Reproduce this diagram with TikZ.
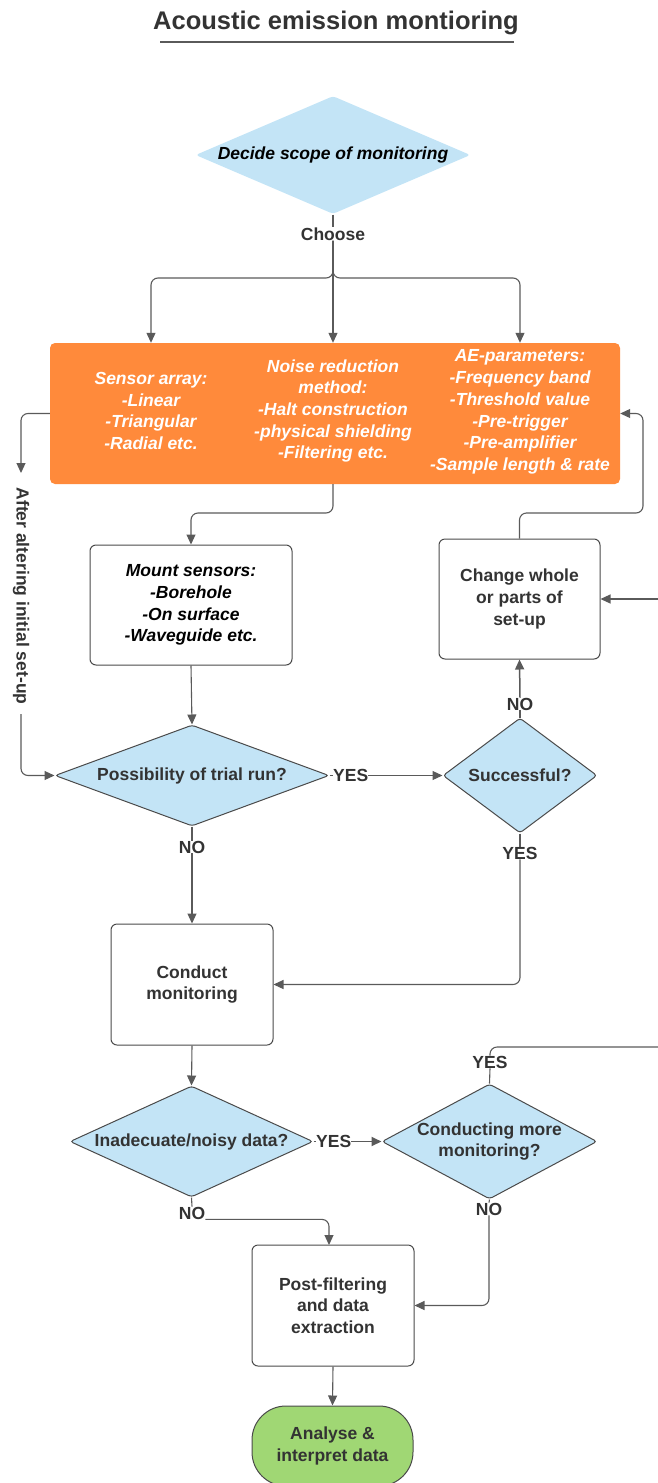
\documentclass[tikz,border=0pt]{standalone}
\usepackage{fontspec}
\setmainfont{Liberation Sans}
\usetikzlibrary{shapes.geometric,arrows.meta}
\definecolor{ink}{HTML}{333333}
\definecolor{edge}{HTML}{4A4A4A}
\definecolor{wire}{HTML}{5A5A5A}
\definecolor{sky}{HTML}{C3E4F6}
\definecolor{paramorange}{HTML}{FF8A3B}
\definecolor{donegreen}{HTML}{A0D774}
\begin{document}
\begin{tikzpicture}[x=1pt,y=-1pt,
  txt/.style={font=\fontsize{17.5}{21.7}\selectfont\bfseries, text=ink, align=center, inner sep=0pt},
  itxt/.style={txt, font=\fontsize{17.5}{21.7}\selectfont\bfseries\itshape},
  decision/.style={txt, diamond, draw=edge, line width=1pt, fill=sky, inner sep=-4pt, rounded corners=3pt},
  stepbox/.style={txt, rectangle, draw=edge, line width=1pt, fill=white, rounded corners=6pt},
  tag/.style={txt},
  flow/.style={draw=wire, line width=1.1pt, rounded corners=7pt},
  arr/.style={flow, -{Triangle[length=10pt,width=9pt]}}
]
\useasboundingbox (0,0) rectangle (658,1483);

% heading
\node[txt, font=\fontsize{25.5}{30}\selectfont\bfseries] (title) at (336,23) {Acoustic emission montioring};
\draw[line width=1.3pt, color=wire] (160,42) -- (514,42);

% scope decision and the three parameter groups
\node[decision, draw=none, aspect=2.33, minimum width=275, minimum height=118, font=\fontsize{17.5}{21.7}\selectfont\bfseries\itshape, text=black] (scope) at (333,155) {Decide scope of monitoring};
\node[tag] (choose) at (333,234) {Choose};

\node[fill=paramorange, rounded corners=5pt, minimum width=570, minimum height=141, inner sep=0pt] (params) at (335,413.5) {};
\node[itxt, text=white] (colA) at (151,411) {Sensor array:\\-Linear\\-Triangular\\-Radial etc.};
\node[itxt, text=white] (colB) at (333,411) {Noise reduction\\method:\\-Halt construction\\-physical shielding\\-Filtering etc.};
\node[itxt, text=white] (colC) at (520,412) {AE-parameters:\\-Frequency band\\-Threshold value\\-Pre-trigger\\-Pre-amplifier\\-Sample length \& rate};

% process steps
\node[stepbox, itxt, text=black, minimum width=202, minimum height=120] (mount) at (191,605) {Mount sensors:\\-Borehole\\-On surface\\-Waveguide etc.};
\node[stepbox, minimum width=161, minimum height=120] (change) at (519.5,599) {Change whole\\or parts of\\set-up};
\node[decision, aspect=2.71, minimum width=274, minimum height=101] (poss) at (192,775.5) {Possibility of trial run?};
\node[decision, aspect=1.34, minimum width=154, minimum height=115] (succ) at (520,775.5) {Successful?};
\node[stepbox, minimum width=162, minimum height=121] (conduct) at (192,984.5) {Conduct\\monitoring};
\node[decision, aspect=2.19, minimum width=243, minimum height=111] (inad) at (191.5,1141.5) {Inadecuate/noisy data?};
\node[decision, aspect=1.87, minimum width=215, minimum height=115] (more) at (489.5,1141.5) {Conducting more\\monitoring?};
\node[stepbox, minimum width=162, minimum height=121] (post) at (333,1305.5) {Post-filtering\\and data\\extraction};
\node[txt, draw=edge, line width=1pt, fill=donegreen, rounded corners=34pt, minimum width=161, minimum height=80] (analyse) at (332.5,1446) {Analyse \&\\interpret data};

% connector labels
\node[tag, anchor=west] (yesA) at (333,775.5) {YES};
\node[tag] (noA) at (192,847) {NO};
\node[tag] (yesB) at (520,853) {YES};
\node[tag] (noB) at (520,704) {NO};
\node[tag, anchor=west] (yesC) at (316,1141.5) {YES};
\node[tag] (yesD) at (490,1062) {YES};
\node[tag] (noC) at (192,1213) {NO};
\node[tag] (noD) at (489,1209) {NO};
\node[tag, rotate=-90] (after) at (21,596) {After altering initial set-up};

% helper points
\coordinate (split) at (333,278);
\coordinate (bendL) at (21,473);
\coordinate (dropL) at (21,714);
\coordinate (jogB) at (333,513);
\coordinate (jogR) at (643,513);
\coordinate (inR) at (658,599);
\coordinate (outR) at (658,1047);
\coordinate (postIn) at (329,1245);

% connectors
\draw[flow] (scope.south) -- (choose.north);
\draw[arr] (choose.south) -- (split) -- (colA |- split) -- (colA |- params.north);
\draw[arr] (choose.south) -- (split) -- (colC |- split) -- (colC |- params.north);
\draw[arr] (choose.south) -- (choose.south |- params.north);

\draw[arr] (params.west) -| (bendL);
\draw[arr] (dropL) |- (poss.west);
\draw[arr] (colB |- params.south) -- (jogB) -| (mount.north);
\draw[arr] (mount.south) -- (poss.north);

\draw[flow] (poss.east) -- (yesA.west);
\draw[arr] (yesA.east) -- (succ.west);
\draw[flow] (succ.north) -- (noB.south);
\draw[arr, line width=1.5pt] (noB.north) -- (change.south);
\draw[arr] (change.north) |- (jogR) |- (params.east);
\draw[arr] (inR) -- (change.east);

\draw[flow] (poss.south) -- (noA.north);
\draw[arr] (noA.south) -- (conduct.north);
\draw[flow] (succ.south) -- (yesB.north);
\draw[arr] (yesB.south) |- (conduct.east);
\draw[arr] (conduct.south) -- (inad.north);

\draw[flow] (inad.east) -- (yesC.west);
\draw[arr, line width=1.8pt] (yesC.east) -- (more.west);
\draw[flow] (more.north) -- (yesD.south);
\draw[flow] (yesD.north) |- (outR);

\draw[flow] (inad.south) -- (noC.north);
\draw[arr] (noC.south east) -| (postIn);
\draw[flow] (more.south) -- (noD.north);
\draw[arr] (noD.south) |- (post.east);
\draw[arr] (post.south) -- (analyse.north);
\end{tikzpicture}
\end{document}
